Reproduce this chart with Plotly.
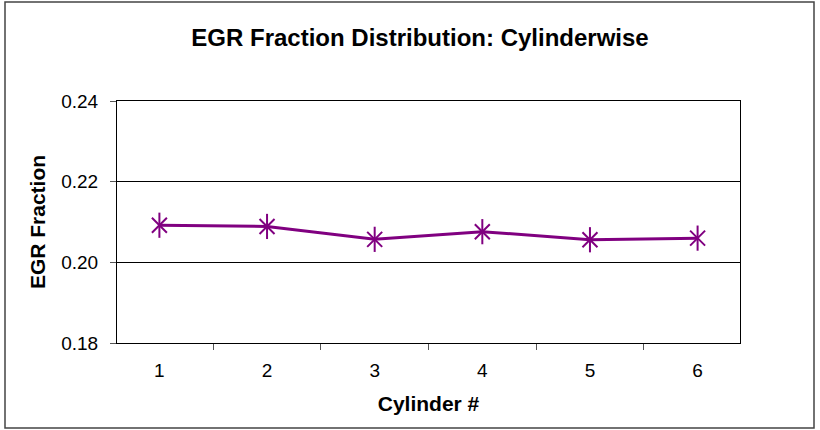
import plotly.graph_objects as go

# Dados
cilindros = ["1", "2", "3", "4", "5", "6"]
fracao_egr = [0.2092, 0.2089, 0.2057, 0.2076, 0.2056, 0.2060]
y_ticks = [0.18, 0.20, 0.22, 0.24]

W, H = 820, 430
m_l, m_r, m_t, m_b = 117, 80, 101, 87
pw, ph = W - m_l - m_r, H - m_t - m_b
ROXO = '#800080'


def px_x(p):
    # pixel horizontal -> coordenada 'paper'
    return (p - m_l) / pw


def px_y(p):
    # pixel vertical (a partir do topo) -> coordenada 'paper'
    return (H - m_b - p) / ph


fig = go.Figure()

# Linha + marcador em X
fig.add_trace(go.Scatter(
    x=cilindros,
    y=fracao_egr,
    mode='lines+markers',
    line=dict(color=ROXO, width=3),
    marker=dict(symbol='x-thin-open', size=15, color=ROXO,
                line=dict(color=ROXO, width=2)),
    showlegend=False,
))
# Traço vertical do marcador "estrela" do Excel
fig.add_trace(go.Scatter(
    x=cilindros,
    y=fracao_egr,
    mode='markers',
    marker=dict(symbol='line-ns-open', size=18, color=ROXO,
                line=dict(color=ROXO, width=2)),
    showlegend=False,
    hoverinfo='skip',
))

# Borda externa da área do gráfico (estilo Excel)
fig.add_shape(
    type='rect', xref='paper', yref='paper',
    x0=px_x(5), x1=px_x(814), y0=px_y(428), y1=px_y(2),
    line=dict(color='#444444', width=1.5), layer='below',
)

fig.update_layout(
    width=W, height=H,
    margin=dict(l=m_l, r=m_r, t=m_t, b=m_b),
    paper_bgcolor='white', plot_bgcolor='white',
    font=dict(family='Liberation Sans, Arial', size=19, color='black'),
    title=dict(text='<b>EGR Fraction Distribution: Cylinderwise</b>',
               x=px_x(420), xref='paper', xanchor='center',
               y=1 - 38 / H, yanchor='middle',
               font=dict(size=24)),
    xaxis=dict(
        title=dict(text='<b>Cylinder #</b>', font=dict(size=21), standoff=16),
        type='category', tickson='boundaries', ticks='outside', ticklen=6,
        tickcolor='#555555', ticklabelstandoff=10,
        showline=True, linecolor='black', mirror=True, showgrid=False,
    ),
    yaxis=dict(
        title=dict(text='<b>EGR Fraction</b>', font=dict(size=21), standoff=9),
        range=[0.18, 0.24], tickvals=y_ticks, tickformat='.2f',
        ticks='outside', ticklen=6, tickcolor='#555555', ticklabelstandoff=8,
        showline=True, linecolor='black', mirror=True,
        showgrid=True, gridcolor='black', gridwidth=1, zeroline=False,
    ),
)

fig.write_html("out.html", config={'displayModeBar': False},
               post_script="document.body.style.margin='0';")
